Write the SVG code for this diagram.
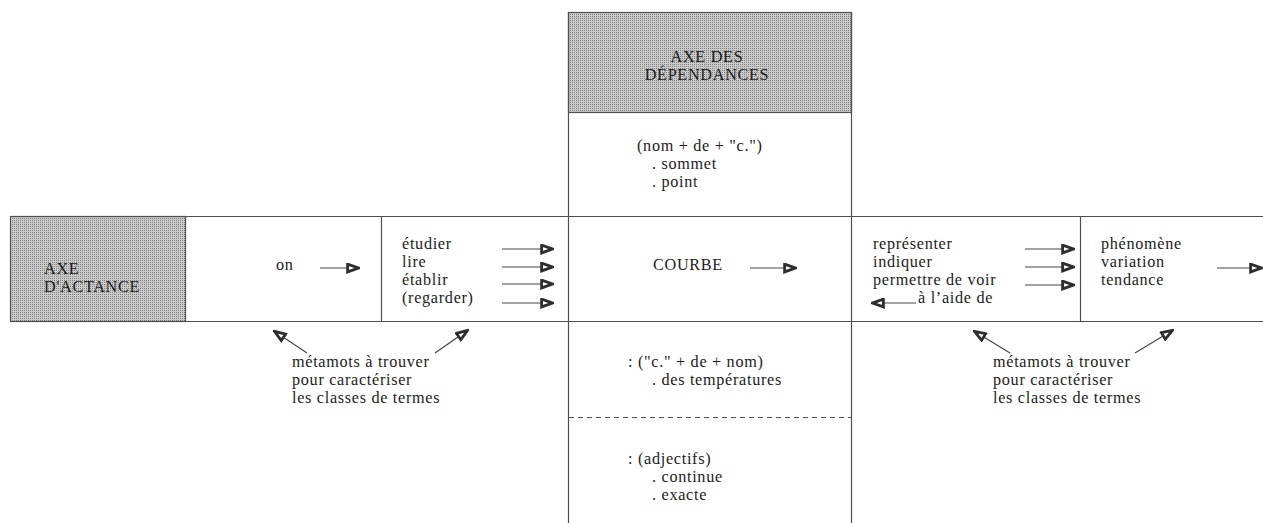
<svg xmlns="http://www.w3.org/2000/svg" width="1263" height="523" viewBox="0 0 1263 523">
<defs>
<pattern id="stip" width="2" height="2" patternUnits="userSpaceOnUse">
<rect width="2" height="2" fill="#cbcbcb"/>
<rect width="1" height="1" fill="#808080"/>
</pattern>
<marker id="ah" viewBox="0 0 14 11" refX="13" refY="5.5" markerWidth="14" markerHeight="11" markerUnits="userSpaceOnUse" orient="auto">
<path d="M1.6,1.6 L12.4,5.5 L1.6,9.4 Z" fill="#fff" stroke="#2e2e2e" stroke-width="2.8" stroke-linejoin="miter"/>
</marker>
<style>
text{font-family:"Liberation Serif","Times New Roman",serif;font-size:16.2px;letter-spacing:0.7px;fill:#1c1c1c}
.ln{stroke:#505050;stroke-width:1.2;fill:none}
.ar{stroke:#444;stroke-width:1.2;fill:none;marker-end:url(#ah)}
.grey{fill:url(#stip);stroke:#505050;stroke-width:1.2}
.mid{text-anchor:middle}
</style>
</defs>
<rect width="1263" height="523" fill="#fff"/>

<g id="axe-dependances">
<rect class="grey" x="568.5" y="12.5" width="283" height="100"/>
<text class="mid" x="707" y="62"><tspan x="707">AXE DES</tspan><tspan x="707" dy="18">DÉPENDANCES</tspan></text>
</g>

<g id="frame">
<line class="ln" x1="568.5" y1="12" x2="568.5" y2="523"/>
<line class="ln" x1="851.5" y1="12" x2="851.5" y2="523"/>
<line class="ln" x1="10" y1="216.5" x2="1263" y2="216.5"/>
<line class="ln" x1="10" y1="321.5" x2="1263" y2="321.5"/>
<line class="ln" x1="381.5" y1="216" x2="381.5" y2="321"/>
<line class="ln" x1="1080.5" y1="216" x2="1080.5" y2="321"/>
<line class="ln" x1="569" y1="417.5" x2="851" y2="417.5" stroke-dasharray="5,4"/>
</g>

<g id="axe-actance">
<rect class="grey" x="10.5" y="216.5" width="175" height="105"/>
<text x="44" y="274"><tspan x="44">AXE</tspan><tspan x="44" dy="18">D'ACTANCE</tspan></text>
</g>

<g id="sujet">
<text x="276" y="270">on</text>
</g>

<g id="verbes">
<text x="402" y="249"><tspan x="402">étudier</tspan><tspan x="402" dy="18">lire</tspan><tspan x="402" dy="18">établir</tspan><tspan x="402" dy="18">(regarder)</tspan></text>
</g>

<g id="dependances-haut">
<text x="637" y="151"><tspan x="637">(nom + de + "c.")</tspan><tspan x="652" dy="18">. sommet</tspan><tspan x="652" dy="18">. point</tspan></text>
</g>

<g id="courbe">
<text x="653" y="270">COURBE</text>
</g>

<g id="dependances-bas">
<text x="628" y="367"><tspan x="628">: ("c." + de + nom)</tspan><tspan x="652" dy="18">. des températures</tspan></text>
</g>

<g id="adjectifs">
<text x="628" y="464"><tspan x="628">: (adjectifs)</tspan><tspan x="652" dy="18">. continue</tspan><tspan x="652" dy="18">. exacte</tspan></text>
</g>

<g id="verbes-droite">
<text x="873" y="249"><tspan x="873">représenter</tspan><tspan x="873" dy="18">indiquer</tspan><tspan x="873" dy="18">permettre de voir</tspan><tspan x="918" dy="18">à l’aide de</tspan></text>
</g>

<g id="noms-droite">
<text x="1101" y="248.5"><tspan x="1101">phénomène</tspan><tspan x="1101" dy="18">variation</tspan><tspan x="1101" dy="18">tendance</tspan></text>
</g>

<g id="metamots-gauche">
<text x="292" y="366.5"><tspan x="292">métamots à trouver</tspan><tspan x="292" dy="18">pour caractériser</tspan><tspan x="292" dy="18">les classes de termes</tspan></text>
</g>

<g id="metamots-droite">
<text x="993" y="366.5"><tspan x="993">métamots à trouver</tspan><tspan x="993" dy="18">pour caractériser</tspan><tspan x="993" dy="18">les classes de termes</tspan></text>
</g>

<g id="connectors">
<line class="ar" x1="320" y1="268" x2="359" y2="268"/>
<line class="ar" x1="502" y1="249" x2="553" y2="249"/>
<line class="ar" x1="502" y1="267" x2="553" y2="267"/>
<line class="ar" x1="502" y1="284" x2="553" y2="284"/>
<line class="ar" x1="502" y1="303" x2="553" y2="303"/>
<line class="ar" x1="750" y1="268" x2="796" y2="268"/>
<line class="ar" x1="1025" y1="249" x2="1074" y2="249"/>
<line class="ar" x1="1025" y1="267" x2="1074" y2="267"/>
<line class="ar" x1="1025" y1="285" x2="1074" y2="285"/>
<line class="ar" x1="916" y1="303" x2="872" y2="303"/>
<line class="ar" x1="1217" y1="268" x2="1262" y2="268"/>
<line class="ar" x1="307" y1="353" x2="274" y2="331"/>
<line class="ar" x1="435" y1="353" x2="468" y2="330"/>
<line class="ar" x1="1010" y1="353" x2="974" y2="331"/>
<line class="ar" x1="1135" y1="353" x2="1173" y2="330"/>
</g>
</svg>
